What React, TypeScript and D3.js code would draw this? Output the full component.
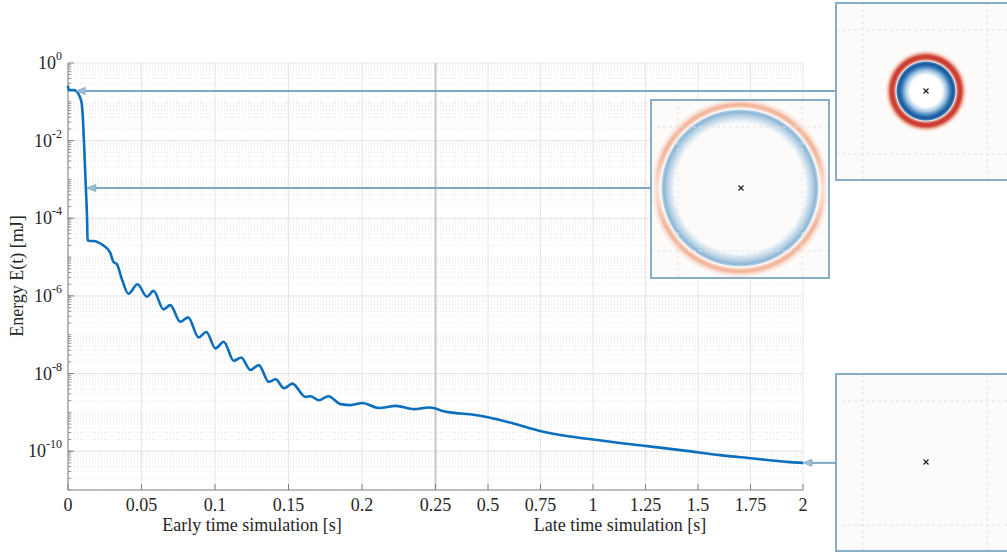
import React from "react";
import * as d3 from "d3";

// Energy decay of the simulated field, early window (0–0.25 s)
const timeEarly = [
  0, 0.0004, 0.004, 0.0055, 0.0075, 0.0093, 0.0102, 0.0109, 0.0123, 0.013, 0.0133, 0.015,
  0.0173, 0.0205, 0.0241, 0.0287, 0.0309, 0.0332, 0.0368, 0.0411, 0.0473, 0.0537, 0.0582,
  0.065, 0.0696, 0.0764, 0.0817, 0.0889, 0.0941, 0.1003, 0.1059, 0.1128, 0.1178, 0.1241,
  0.1298, 0.1366, 0.1412, 0.1469, 0.1526, 0.1616, 0.165, 0.1707, 0.1771, 0.1855, 0.1923,
  0.2003, 0.2116, 0.223, 0.2355, 0.2455, 0.25,
];
const energyEarly = [
  0.26, 0.2, 0.2, 0.19, 0.15, 0.091, 0.034, 8.7e-3, 4.5e-4, 9e-5, 2.7e-5, 2.6e-5,
  2.6e-5, 2.4e-5, 2.0e-5, 1.3e-5, 7.6e-6, 6.6e-6, 2.6e-6, 1.14e-6, 2.0e-6, 9.5e-7, 1.35e-6,
  4.5e-7, 5.8e-7, 2.15e-7, 2.8e-7, 8.5e-8, 1.18e-7, 4.45e-8, 6.6e-8, 2.13e-8, 2.6e-8, 1.23e-8,
  1.65e-8, 6.1e-9, 7.1e-9, 4.2e-9, 5.5e-9, 2.5e-9, 2.6e-9, 2.05e-9, 2.6e-9, 1.63e-9, 1.54e-9,
  1.75e-9, 1.29e-9, 1.47e-9, 1.21e-9, 1.34e-9, 1.26e-9,
];

// Late window (0.25–2 s)
const timeLate = [0.28, 0.319, 0.414, 0.494, 0.62, 0.748, 0.875, 1.0, 1.128, 1.287, 1.446, 1.605, 1.763, 1.922, 2.0];
const energyLate = [1.1e-9, 1.0e-9, 8.9e-10, 7.6e-10, 5.2e-10, 3.3e-10, 2.45e-10, 2.0e-10, 1.63e-10, 1.29e-10, 1.02e-10, 7.9e-11, 6.5e-11, 5.3e-11, 5.0e-11];

// Axis ticks
const earlyTicks = [0, 0.05, 0.1, 0.15, 0.2, 0.25];
const lateTicks = [0.5, 0.75, 1, 1.25, 1.5, 1.75, 2];
const decadeTicks = [0, -2, -4, -6, -8, -10];

// Snapshot instants marked with arrows (time, energy)
const snapshotTime = [0.0055, 0.0128, 2.0];
const snapshotEnergy = [0.19, 6e-4, 5e-11];

const W = 1007;
const H = 553;
const LEFT = 68;
const RIGHT = 803;
const TOP = 63;
const BOTTOM = 490;

const FONT = "'Liberation Serif', 'Times New Roman', serif";
const ARROW = "#7fa6c3";
const FRAME = "#88adc7";
const INSET_BG = "#fcfbfa";

export default function App() {
  const x = d3.scaleLinear().domain([0, 0.25, 2]).range([LEFT, 435.5, RIGHT]);
  const y = d3.scaleLog().domain([1e-11, 1]).range([BOTTOM, TOP]);

  const pts: [number, number][] = [];
  timeEarly.forEach((t, i) => pts.push([t, energyEarly[i]]));
  timeLate.forEach((t, i) => pts.push([t, energyLate[i]]));

  const line = d3
    .line<[number, number]>()
    .x((d) => x(d[0]))
    .y((d) => y(d[1]))
    .curve(d3.curveMonotoneX);

  const minorY: number[] = [];
  for (let k = -11; k < 0; k++) {
    for (let m = 1; m <= 9; m++) minorY.push(m * Math.pow(10, k));
  }

  const allX = [...earlyTicks, ...lateTicks];

  // Inset panels
  const insets = [
    { x: 836, y: 3, w: 180, h: 177 },
    { x: 651, y: 100, w: 178, h: 178 },
    { x: 836, y: 374, w: 180, h: 177 },
  ];

  const arrowStart = [836, 651, 836];

  return (
    <svg
      width={W}
      height={H}
      style={{ position: "absolute", left: 0, top: 0, background: "#fff" }}
      fontFamily={FONT}
    >
      <defs>
        <radialGradient id="g1" gradientUnits="userSpaceOnUse" cx={926} cy={91} r={42}>
          <stop offset="0" stopColor="#ffffff" />
          <stop offset="0.38" stopColor="#ffffff" />
          <stop offset="0.49" stopColor="#a6c8e3" />
          <stop offset="0.58" stopColor="#3d7fbd" />
          <stop offset="0.645" stopColor="#1a5595" />
          <stop offset="0.69" stopColor="#3f80bd" />
          <stop offset="0.715" stopColor="#f3f2f2" />
          <stop offset="0.74" stopColor="#e58676" />
          <stop offset="0.79" stopColor="#c9362d" />
          <stop offset="0.85" stopColor="#cf4b3d" />
          <stop offset="0.9" stopColor="#eeb09f" />
          <stop offset="0.95" stopColor="#faeee9" />
          <stop offset="1" stopColor={INSET_BG} />
        </radialGradient>
        {/* blue wavefront of the second snapshot */}
        <radialGradient id="g2b" gradientUnits="userSpaceOnUse" cx={740} cy={188} r={90}>
          <stop offset="0" stopColor="#ffffff" stopOpacity={0} />
          <stop offset="0.7" stopColor="#ffffff" stopOpacity={0} />
          <stop offset="0.76" stopColor="#dbe8f2" />
          <stop offset="0.81" stopColor="#b3cfe4" />
          <stop offset="0.845" stopColor="#8db7d7" />
          <stop offset="0.866" stopColor="#b2cde2" />
          <stop offset="0.88" stopColor="#f7f4f2" stopOpacity={0} />
          <stop offset="1" stopColor="#ffffff" stopOpacity={0} />
        </radialGradient>
        {/* red trailing ring of the second snapshot */}
        <radialGradient id="g2r" gradientUnits="userSpaceOnUse" cx={740} cy={188} r={90}>
          <stop offset="0" stopColor="#f3b79d" stopOpacity={0} />
          <stop offset="0.88" stopColor="#f3b79d" stopOpacity={0} />
          <stop offset="0.905" stopColor="#f3b79d" stopOpacity={0.8} />
          <stop offset="0.93" stopColor="#f0a688" stopOpacity={0.9} />
          <stop offset="0.965" stopColor="#f6cdb9" stopOpacity={0.5} />
          <stop offset="1" stopColor="#f6cdb9" stopOpacity={0} />
        </radialGradient>
        <linearGradient id="redMaskGrad" x1="0" y1="0" x2="0" y2="1">
          <stop offset="0" stopColor="#fff" />
          <stop offset="0.3" stopColor="#fff" />
          <stop offset="0.5" stopColor="#555" />
          <stop offset="0.7" stopColor="#fff" />
          <stop offset="1" stopColor="#fff" />
        </linearGradient>
        <mask id="redMask" maskUnits="userSpaceOnUse" x={651} y={100} width={178} height={178}>
          <rect x={651} y={100} width={178} height={178} fill="url(#redMaskGrad)" />
        </mask>
        {insets.map((r, i) => (
          <clipPath key={i} id={`clip${i}`}>
            <rect x={r.x} y={r.y} width={r.w} height={r.h} />
          </clipPath>
        ))}
      </defs>

      {/* minor grid */}
      {minorY.map((v, i) => (
        <line
          key={`my${i}`}
          x1={LEFT}
          x2={RIGHT}
          y1={y(v)}
          y2={y(v)}
          stroke="#e6e6e6"
          strokeWidth={1}
          strokeDasharray="1,2"
        />
      ))}
      {/* major grid */}
      {decadeTicks.map((k) => (
        <line key={`gy${k}`} x1={LEFT} x2={RIGHT} y1={y(Math.pow(10, k))} y2={y(Math.pow(10, k))} stroke="#e6e6e6" />
      ))}
      {allX.map((t) => (
        <line
          key={`gx${t}`}
          x1={x(t)}
          x2={x(t)}
          y1={TOP}
          y2={BOTTOM}
          stroke={t === 0.25 ? "#c9c9c9" : "#e6e6e6"}
          strokeWidth={t === 0.25 ? 2 : 1}
        />
      ))}

      {/* axes */}
      <line x1={LEFT} x2={LEFT} y1={TOP} y2={BOTTOM} stroke="#808080" />
      <line x1={LEFT} x2={RIGHT} y1={BOTTOM} y2={BOTTOM} stroke="#808080" />
      {minorY.map((v, i) => (
        <line key={`mt${i}`} x1={LEFT} x2={LEFT + 3} y1={y(v)} y2={y(v)} stroke="#909090" />
      ))}
      {decadeTicks.map((k) => (
        <line key={`yt${k}`} x1={LEFT} x2={LEFT + 6} y1={y(Math.pow(10, k))} y2={y(Math.pow(10, k))} stroke="#808080" />
      ))}
      {allX.map((t) => (
        <line key={`xt${t}`} x1={x(t)} x2={x(t)} y1={BOTTOM} y2={BOTTOM - 6} stroke="#808080" />
      ))}

      {/* tick labels */}
      {decadeTicks.map((k) => (
        <text key={`yl${k}`} x={62} y={y(Math.pow(10, k)) + 6} textAnchor="end" fontSize={18} fill="#262626">
          <tspan>10</tspan>
          <tspan fontSize={12} dy={-9}>
            {k}
          </tspan>
        </text>
      ))}
      {allX.map((t) => (
        <text key={`xl${t}`} x={x(t)} y={511} textAnchor="middle" fontSize={18} fill="#262626">
          {String(t)}
        </text>
      ))}

      {/* axis titles */}
      <text x={252} y={531} textAnchor="middle" fontSize={18} fill="#262626">
        Early time simulation [s]
      </text>
      <text x={620} y={531} textAnchor="middle" fontSize={18} fill="#262626">
        Late time simulation [s]
      </text>
      <text transform="translate(23,276) rotate(-90)" textAnchor="middle" fontSize={18} fill="#262626">
        Energy E(t) [mJ]
      </text>

      {/* energy curve */}
      <path d={line(pts) ?? ""} fill="none" stroke="#0b6fbd" strokeWidth={2.6} strokeLinejoin="round" />

      {/* snapshot insets */}
      {insets.map((r, i) => (
        <g key={`in${i}`}>
          <g clipPath={`url(#clip${i})`}>
            <rect x={r.x} y={r.y} width={r.w} height={r.h} fill={INSET_BG} />
            {i === 0 && <circle cx={926} cy={91} r={42} fill="url(#g1)" />}
            {i === 1 && (
              <g>
                <circle cx={740} cy={188} r={90} fill="url(#g2r)" mask="url(#redMask)" />
                <circle cx={740} cy={188} r={90} fill="url(#g2b)" />
              </g>
            )}
            {[28, 152].map((o) => (
              <g key={o}>
                <line x1={r.x + o - 1} x2={r.x + o - 1} y1={r.y} y2={r.y + r.h} stroke="#e6e2e0" strokeDasharray="3,3" />
                <line x1={r.x} x2={r.x + r.w} y1={r.y + o - 1} y2={r.y + o - 1} stroke="#e6e2e0" strokeDasharray="3,3" />
              </g>
            ))}
            <g stroke="#222" strokeWidth={1.3}>
              <line x1={r.x + 87.5} x2={r.x + 92.5} y1={r.y + 85.5} y2={r.y + 90.5} />
              <line x1={r.x + 87.5} x2={r.x + 92.5} y1={r.y + 90.5} y2={r.y + 85.5} />
            </g>
          </g>
          <rect x={r.x} y={r.y} width={r.w} height={r.h} fill="none" stroke={FRAME} strokeWidth={2} />
        </g>
      ))}

      {/* arrows from snapshots to the curve */}
      {snapshotTime.map((t, i) => {
        const tx = x(t);
        const ty = y(snapshotEnergy[i]);
        return (
          <g key={`ar${i}`}>
            <line x1={arrowStart[i]} x2={tx + 6} y1={ty} y2={ty} stroke={ARROW} strokeWidth={2} />
            <path
              d={`M${tx},${ty} L${tx + 9},${ty - 3.5} L${tx + 9},${ty + 3.5} Z`}
              fill="#9dbdd4"
              stroke={ARROW}
              strokeWidth={0.8}
            />
          </g>
        );
      })}
    </svg>
  );
}
